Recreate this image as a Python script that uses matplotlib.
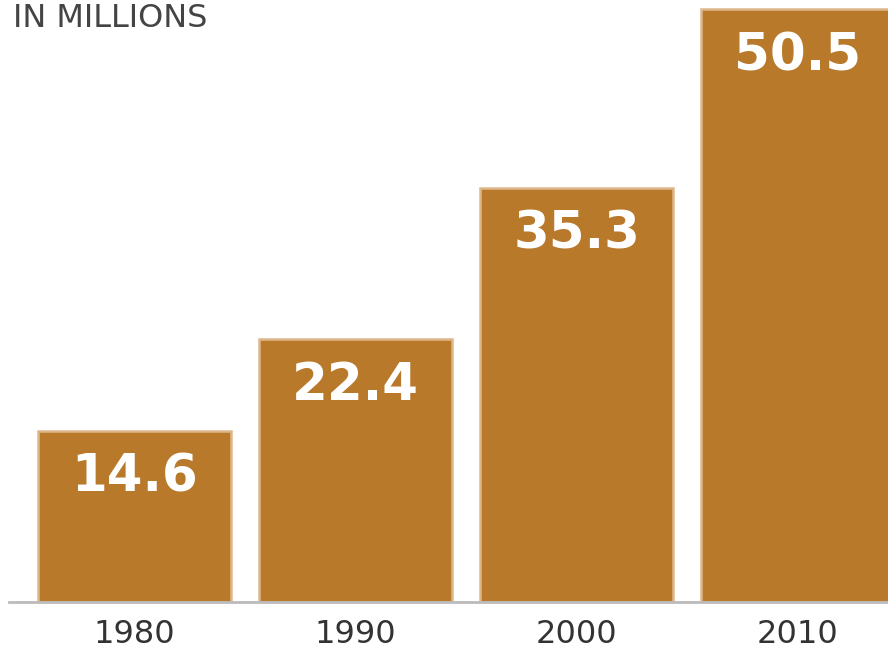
import matplotlib
matplotlib.use("Agg")
import matplotlib.pyplot as plt

years = ["1980", "1990", "2000", "2010"]
values = [14.6, 22.4, 35.3, 50.5]
value_labels = ["14.6", "22.4", "35.3", "50.5"]
unit_label = "IN MILLIONS"

W, H = 888, 655
fig = plt.figure(figsize=(W / 100, H / 100), dpi=100)
left_px, base_px = 9, 602
ax = fig.add_axes([left_px / W, (H - base_px) / H, 1 - left_px / W, base_px / H])

spacing = 221.0
c0 = 134.5
ax.set_xlim(-(c0 - left_px) / spacing, (W - c0) / spacing)
ax.set_ylim(0, base_px / 11.74)

x = list(range(len(years)))
bars = ax.bar(x, values, width=0.873, color="#B9792B", edgecolor="#DDB78C", linewidth=1.8)

for xi, v, lab in zip(x, values, value_labels):
    ax.annotate(lab, xy=(xi, v), xytext=(0, -16), textcoords="offset points",
                ha="center", va="top", color="white", fontsize=37,
                fontweight="bold", family="DejaVu Sans")

for s in ["top", "right", "left"]:
    ax.spines[s].set_visible(False)
ax.spines["bottom"].set_color("#BBBBBB")
ax.spines["bottom"].set_linewidth(2)
ax.set_yticks([])
ax.set_xticks(x)
ax.set_xticklabels(years, fontsize=23, color="#333333")
ax.tick_params(axis="x", length=0, pad=12)

fig.text(13 / W, 1 - 3 / H, unit_label, ha="left", va="top", fontsize=23, color="#444444")

fig.savefig("out.png", dpi=100)
